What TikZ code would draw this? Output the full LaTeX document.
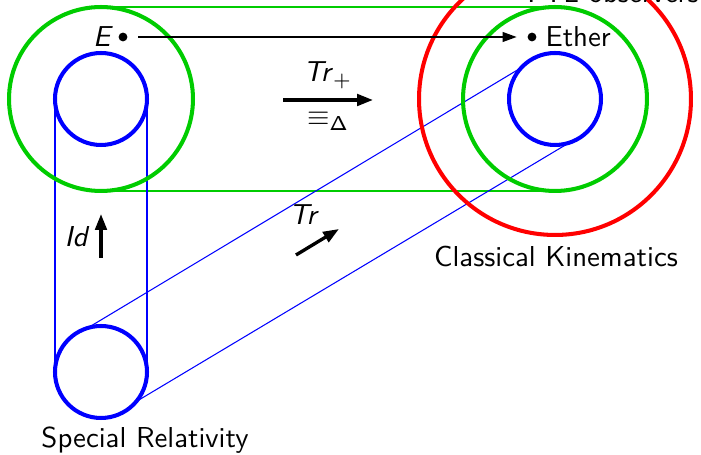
\documentclass[tikz,border=0pt]{standalone}
\usetikzlibrary{arrows.meta}

\begin{document}
\begin{tikzpicture}[
    x=0.02cm, y=-0.02cm,
    font=\fontsize{10}{12}\sffamily,
    ring/.style = {circle, draw, line width=2.3pt, inner sep=0pt, outer sep=0pt},
    small_ring/.style = {ring, blue, minimum size=1.84cm},
    big_ring/.style = {ring, green!80!black, minimum size=3.68cm},
    link_green/.style = {green!80!black, line width=0.6pt},
    link_blue/.style = {blue, line width=0.6pt},
    dot/.style = {circle, fill, inner sep=0pt, minimum size=5pt},
    map/.style = {line width=1.9pt, -{Triangle[length=9pt,width=6.5pt]}},
    obs/.style = {line width=1.1pt, -{Triangle[length=8pt,width=5.5pt]},
                  shorten <=6pt, shorten >=6pt},
    lbl/.style = {anchor=base, inner sep=0pt, scale=1.64},
]

\clip (0,0) rectangle (701,455);

% Anordnung der Kreise (nur Positionen)
\coordinate (srC) at (101,372);
\coordinate (leftC) at (101,99);
\coordinate (ckC) at (555,99);

% duenne Verbindungslinien
\path (leftC) node[big_ring, draw=none] (lgreen) {}
      (ckC) node[big_ring, draw=none] (rgreen) {}
      (leftC) node[small_ring, draw=none] (lblue) {}
      (ckC) node[small_ring, draw=none] (rblue) {}
      (srC) node[small_ring, draw=none] (srblue) {};

\draw[link_green] (lgreen.north) -- (rgreen.north);
\draw[link_green] (lgreen.south) -- (rgreen.south);
\draw[link_blue] (lblue.west) -- (srblue.west);
\draw[link_blue] (lblue.east) -- (srblue.east);
\draw[link_blue] (srblue.107) -- (rblue.137);
\draw[link_blue] (srblue.-40) -- (rblue.-72);

% Kreise
\node[ring, red, minimum size=5.44cm] (ftl) at (ckC) {};
\node[big_ring] at (leftC) {};
\node[big_ring] at (ckC) {};
\node[small_ring] at (leftC) {};
\node[small_ring] at (ckC) {};
\node[small_ring] at (srC) {};

% Beobachter
\node[dot] (eDot) at (123,37) {};
\node[dot] (etherDot) at (532,37) {};
\draw[obs] (eDot) -- (etherDot);
\node[lbl] (eLabel) at (103,47) {\textsl{E}};
\node[lbl, anchor=base west] (etherLabel) at (545,47) {Ether};

% Abbildungen
\coordinate (trpS) at (283,100);
\coordinate (trpE) at (373,100);
\draw[map] (trpS) -- (trpE);
\node[lbl] (trpLabel) at (328,82) {\textsl{Tr}$_{\mathsf{+}}$};
\node[lbl] (eqLabel) at (328,126) {$\equiv_{\mathsf{\Delta}}$};

\coordinate (idS) at (101,258);
\coordinate (idE) at (101,214);
\draw[map] (idS) -- (idE);
\node[lbl] (idLabel) at (77,247) {\textsl{Id}};

\coordinate (trS) at (296,255);
\coordinate (trE) at (339,229);
\draw[map] (trS) -- (trE);
\node[lbl] (trLabel) at (304,225) {\textsl{Tr}};

% Beschriftungen
\node[lbl] (ftlLabel) at (613,3) {FTL observers};
\node[lbl] (ckLabel) at (556,267) {Classical Kinematics};
\node[lbl] (srLabel) at (145,448) {Special Relativity};

\end{tikzpicture}
\end{document}
